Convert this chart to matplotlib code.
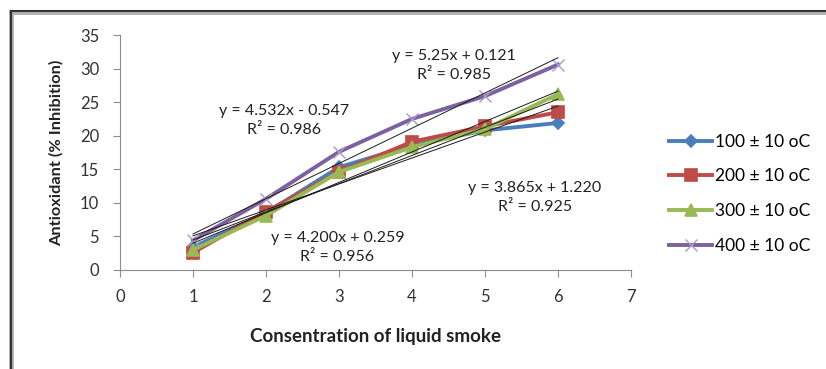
import numpy as np
import matplotlib
matplotlib.use('Agg')
import matplotlib.pyplot as plt
from matplotlib.lines import Line2D

plt.rcParams['font.family'] = ['Lato', 'DejaVu Sans']

# Data
conc = [1, 2, 3, 4, 5, 6]
labels = ['100 ± 10 oC', '200 ± 10 oC', '300 ± 10 oC', '400 ± 10 oC']
t100 = [3.4, 8.5, 15.3, 18.6, 20.8, 21.9]
t200 = [2.6, 8.7, 14.6, 19.1, 21.4, 23.5]
t300 = [3.0, 8.1, 14.6, 18.3, 21.0, 26.2]
t400 = [4.4, 10.6, 17.6, 22.5, 25.9, 30.6]

# Linear trendlines as printed on the chart
slopes = [3.865, 4.200, 4.532, 5.25]
intercepts = [1.220, 0.259, -0.547, 0.121]
eq_texts = ['y = 3.865x + 1.220\nR² = 0.925',
            'y = 4.200x + 0.259\nR² = 0.956',
            'y = 4.532x - 0.547\nR² = 0.986',
            'y = 5.25x + 0.121\nR² = 0.985']
eq_pos = [(5.68, 10.8), (2.98, 3.3), (2.25, 22.2), (4.57, 30.4)]

colors = ['#4A7EBB', '#BE4B48', '#98B954', '#7D60A0']
markers = ['D', 's', '^', 'x']
msizes = [6, 9, 9, 9]

fig = plt.figure(figsize=(8.26, 3.69), dpi=100)
ax = fig.add_axes([0.1453, 0.2683, 0.6186, 0.6368])

series = [t100, t200, t300, t400]
for vals, lab, c, m, ms in zip(series, labels, colors, markers, msizes):
    ax.plot(conc, vals, color=c, lw=2.8, marker=m, markersize=ms,
            markeredgewidth=1.2 if m != 'x' else 1.0,
            markeredgecolor=c if m != 'x' else '#A99BC8', label=lab, zorder=3)

xs = np.array([conc[0], conc[-1]])
for k, b in zip(slopes, intercepts):
    ax.plot(xs, k * xs + b, color='#1a1a1a', lw=0.7, zorder=4)

for txt, (x, y) in zip(eq_texts, eq_pos):
    ax.text(x, y, txt, ha='center', va='center', fontsize=11.5,
            color='#222222', linespacing=1.45, zorder=5)

ax.set_xlim(0, 7)
ax.set_ylim(0, 35)
ax.set_xticks(range(0, 8))
ax.set_yticks(range(0, 36, 5))
for s in ['top', 'right']:
    ax.spines[s].set_visible(False)
for s in ['left', 'bottom']:
    ax.spines[s].set_color('#8c8c8c')
ax.tick_params(colors='#8c8c8c', labelcolor='#333333', labelsize=12,
               direction='out', length=5)
ax.tick_params(axis='x', pad=9)
ax.tick_params(axis='y', pad=10)

ax.set_xlabel('Consentration of liquid smoke', fontsize=13.5, fontweight='bold',
              color='#222222', labelpad=16)
ax.set_ylabel('Antioxidant (% Inhibition)', fontsize=11.8, fontweight='bold',
              color='#222222', labelpad=12)

ax.legend(loc='center left', bbox_to_anchor=(0.791, 0.475),
          bbox_transform=fig.transFigure, frameon=False, fontsize=12.5,
          handlelength=2.5, handletextpad=0.15, labelspacing=1.07)

# outer frame around the chart area
fig.add_artist(Line2D([11 / 826, 1], [1 - 11.5 / 369, 1 - 11.5 / 369],
                      transform=fig.transFigure, color='#b0b0b0', lw=3.5))
fig.add_artist(Line2D([11 / 826, 11 / 826], [0, 1 - 11.5 / 369],
                      transform=fig.transFigure, color='#b0b0b0', lw=3.5))
fig.add_artist(Line2D([10.5 / 826, 1], [1 - 11 / 369, 1 - 11 / 369],
                      transform=fig.transFigure, color='#333333', lw=1.5))
fig.add_artist(Line2D([10.5 / 826, 10.5 / 826], [0, 1 - 11 / 369],
                      transform=fig.transFigure, color='#333333', lw=1.5))

fig.savefig('out.png', dpi=100)
